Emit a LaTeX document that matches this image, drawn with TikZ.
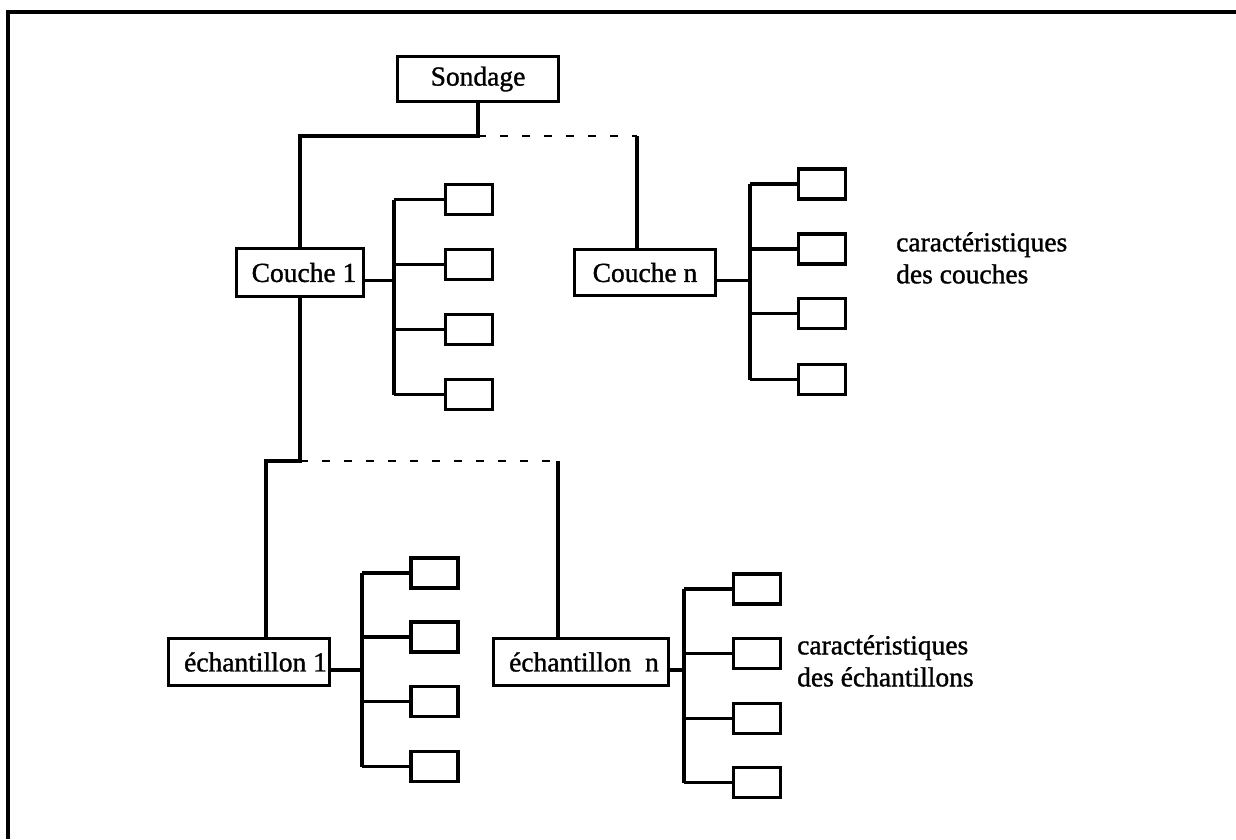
\documentclass[tikz,border=0pt]{standalone}
\usepackage{fontspec}
\setmainfont[FakeBold=1.2]{Liberation Serif}
\begin{document}
\begin{tikzpicture}[x=1pt,y=-1pt,
  every node/.style={font=\fontsize{27.5}{32}\selectfont},
  box/.style={draw,line width=3.6pt,inner sep=0pt,anchor=center},
  leaf/.style={box,minimum width=47pt,minimum height=30pt},
  link/.style={line width=3.4pt},
  dotlink/.style={line width=2.6pt,dash pattern=on 8pt off 14pt}]
\useasboundingbox (0,0) rectangle (1236,839);
% frame
\draw[line width=4pt] (8,839) -- (8,12) -- (1236,12);

% main boxes
\node[box,minimum width=161pt,minimum height=45pt] (sond) at (478,79) {Sondage};
\node[box,minimum width=127pt,minimum height=48pt] (c1) at (300,272.5) {\hspace{8pt}Couche 1};
\node[box,minimum width=141pt,minimum height=46pt] (cn) at (645,272.5) {Couche n};
\node[box,minimum width=161pt,minimum height=47pt] (e1) at (249,662) {\hspace{13pt}échantillon 1};
\node[box,minimum width=175pt,minimum height=47pt] (en) at (581,662) {\hspace{6pt}échantillon\hspace{0.5em}n};

% attribute boxes
\foreach \i/\y in {1/199.5,2/264.5,3/329.5,4/394.5}
  \node[leaf] (c1\i) at (469,\y) {};
\foreach \i/\y in {1/184,2/249,3/313.5,4/379.5}
  \node[leaf] (cn\i) at (822,\y) {};
\foreach \i/\y in {1/573,2/637,3/701.5,4/766.5}
  \node[leaf] (e1\i) at (434.5,\y) {};
\foreach \i/\y in {1/589,2/653.5,3/718.5,4/782.5}
  \node[leaf] (en\i) at (757,\y) {};

% labels
\node[align=left,anchor=north west,inner sep=0pt] (lc) at (896,232)
  {caractéristiques\\des couches};
\node[align=left,anchor=north west,inner sep=0pt] (le) at (797,635)
  {caractéristiques\\des échantillons};

% junction points
\coordinate (j1) at (478,136);
\coordinate (jn) at (637,136);
\coordinate (j2) at (300,461);
\coordinate (j2l) at (266,461);
\coordinate (j2n) at (558,461);
\coordinate (c1b) at (394,0);
\coordinate (cnb) at (750,0);
\coordinate (e1b) at (362,0);
\coordinate (enb) at (684,0);

% tree of layers
\draw[link] (sond) -- (j1) -| (c1);
\draw[dotlink] (j1) -- (jn);
\draw[link] (jn) -- (jn |- cn.north);

% tree of samples
\draw[link] (c1) -- (j2) -- (j2l) -- (j2l |- e1.north);
\draw[dotlink] (j2) -- (j2n);
\draw[link] (j2n) -- (j2n |- en.north);

% attribute buses
\foreach \n/\b in {c1/c1b,cn/cnb,e1/e1b,en/enb}{
  \draw[link] ([yshift=-8pt]\n.east) -- ([yshift=-8pt]\n.east -| \b);
  \draw[link] (\n1.west -| \b) -- (\n4.west -| \b);
  \foreach \i in {1,...,4}
    \draw[link] (\n\i.west) -- (\n\i.west -| \b);
}
\end{tikzpicture}
\end{document}
